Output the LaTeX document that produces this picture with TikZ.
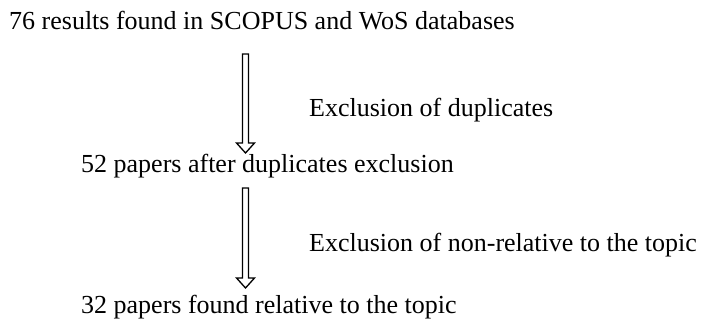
\documentclass[tikz,border=0pt]{standalone}
\usepackage{fontspec}
\setmainfont{Liberation Serif}
\begin{document}
\begin{tikzpicture}[x=1pt,y=-1pt,
  lbl/.style={anchor=base west,inner sep=0pt,font=\fontsize{26}{30}\selectfont},
  blockarrow/.style={draw=black,line width=1.3pt,fill=white,line join=miter}]
\useasboundingbox (0,0) rectangle (708,321);
\node[lbl] (a) at (9,30) {76 results found in SCOPUS and WoS databases};
\node[lbl] (e1) at (309,116) {Exclusion of duplicates};
\node[lbl] (b) at (81,172) {52 papers after duplicates exclusion};
\node[lbl] (e2) at (309,251) {Exclusion of non-relative to the topic};
\node[lbl] (c) at (81,313) {32 papers found relative to the topic};
\draw[blockarrow] (242.5,54) -- (248.5,54) -- (248.5,143) -- (254.5,143) -- (245.5,153) -- (236.5,143) -- (242.5,143) -- cycle;
\draw[blockarrow] (242.5,188) -- (248.5,188) -- (248.5,278) -- (254.5,278) -- (245.5,288) -- (236.5,278) -- (242.5,278) -- cycle;
\end{tikzpicture}
\end{document}
